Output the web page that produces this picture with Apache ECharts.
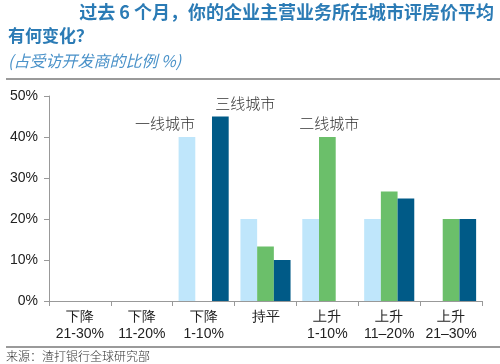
<!DOCTYPE html>
<html><head><meta charset="utf-8">
<script src="https://cdn.jsdelivr.net/npm/echarts@6/dist/echarts.min.js"></script>
<style>html,body{margin:0;padding:0;background:#fff}#c{width:500px;height:364px}</style>
</head><body><div id="c"></div>
<script>
const categories = ['下降\n21-30%', '下降\n11-20%', '下降\n1-10%', '持平', '上升\n1-10%', '上升\n11–20%', '上升\n21–30%'];
const tier1 = [0, 0, 40, 20, 20, 20, 0];
const tier2 = [0, 0, 0, 13.3, 40, 26.7, 20];
const tier3 = [0, 0, 45, 10, 0, 25, 20];
const seriesNames = ['一线城市', '二线城市', '三线城市'];
const yTicks = [0, 10, 20, 30, 40, 50];
const titleLine1 = '过去 6 个月，你的企业主营业务所在城市评房价平均';
const titleLine2 = '有何变化？';
const subtitle = '(占受访开发商的比例 %)';
const source = '来源：渣打银行全球研究部';

const colors = ['#bfe6fb', '#6bbf6a', '#005a87'];
const labelFont = {fontFamily: 'Noto Sans CJK SC', fontSize: 15, color: '#333', fontWeight: 300};
function mk(vals, idx, labelAt, offset) {
  return vals.map((v, i) => {
    const d = {value: v};
    if (i === labelAt) d.label = Object.assign({show: true, position: 'top', formatter: seriesNames[idx], offset: offset, distance: 6}, labelFont);
    return d;
  });
}
const chart = echarts.init(document.getElementById('c'), null, {renderer: 'canvas'});
chart.setOption({
  animation: false,
  grid: {left: 49, right: 18, top: 96, bottom: 63},
  xAxis: {
    type: 'category', data: categories,
    axisLine: {lineStyle: {color: '#999', width: 1}},
    axisTick: {show: true, length: 5, lineStyle: {color: '#999'}},
    axisLabel: {color: '#222', fontSize: 14, fontFamily: 'Liberation Sans, Arial', lineHeight: 17, margin: 8, interval: 0}
  },
  yAxis: {
    type: 'value', min: yTicks[0], max: yTicks[yTicks.length - 1], interval: 10,
    axisLine: {show: true, lineStyle: {color: '#999', width: 1}},
    axisTick: {show: true, length: 5, lineStyle: {color: '#999'}},
    splitLine: {show: false},
    axisLabel: {formatter: '{value}%', color: '#222', fontSize: 14, fontFamily: 'Liberation Sans, Arial', margin: 11}
  },
  series: [
    {type: 'bar', name: seriesNames[0], data: mk(tier1, 0, 2, [-22, 0]), itemStyle: {color: colors[0]}, barGap: '0%', barCategoryGap: '19%'},
    {type: 'bar', name: seriesNames[1], data: mk(tier2, 1, 4, [2, 0]), itemStyle: {color: colors[1]}, barGap: '0%', barCategoryGap: '19%'},
    {type: 'bar', name: seriesNames[2], data: mk(tier3, 2, 2, [25, 0]), itemStyle: {color: colors[2]}, barGap: '0%', barCategoryGap: '19%'}
  ],
  graphic: [
    {type: 'text', right: 6, top: 3, style: {text: titleLine1, font: 'bold 18px "Noto Sans CJK SC"', fill: '#2b7bb5'}},
    {type: 'text', left: 8, top: 27, style: {text: titleLine2, font: 'bold 17px "Noto Sans CJK SC"', fill: '#2b7bb5'}},
    {type: 'text', left: 8, top: 53, style: {text: subtitle, font: 'italic 16px "Noto Sans CJK SC"', fill: '#4a92c9'}},
    {type: 'rect', shape: {x: 6, y: 78, width: 494, height: 2}, style: {fill: '#9a9a9a'}},
    {type: 'rect', shape: {x: 6, y: 346, width: 494, height: 2}, style: {fill: '#9a9a9a'}},
    {type: 'text', left: 6, top: 350, style: {text: source, font: '300 12px "Noto Sans CJK SC"', fill: '#333'}}
  ]
});
</script></body></html>
